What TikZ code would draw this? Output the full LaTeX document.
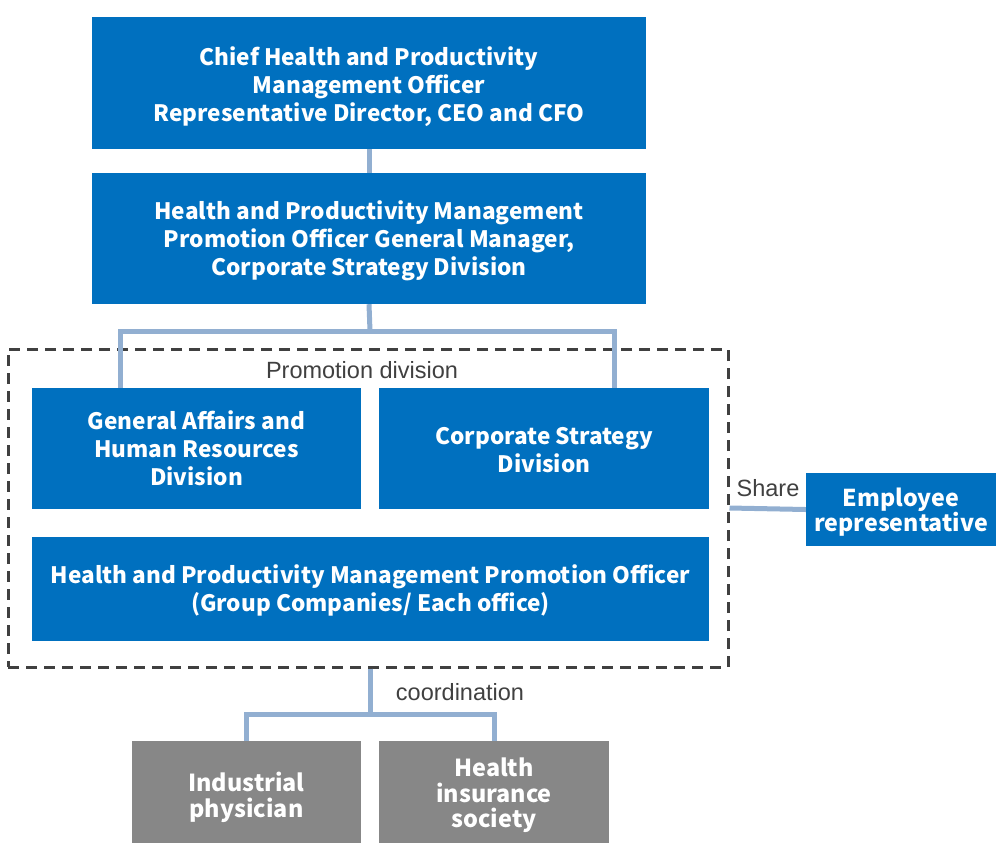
\documentclass[tikz,border=0pt]{standalone}
\usepackage{fontspec}
\setmainfont{Liberation Sans}
\newfontfamily\boxfont{Noto Sans CJK JP}
\usetikzlibrary{calc}

\definecolor{orgblue}{HTML}{0070BF}
\definecolor{orggray}{HTML}{878787}
\definecolor{linkblue}{HTML}{92AFD1}
\definecolor{framegray}{HTML}{404040}

\begin{document}
\begin{tikzpicture}[x=1pt,y=-1pt]
  \tikzset{unit/.style = {fill=orgblue, text=white, align=center,
                          inner sep=0pt, font=\boxfont\bfseries\fontsize{22.6}{28}\selectfont}}
  \tikzset{outside/.style = {unit, fill=orggray,
                             font=\boxfont\bfseries\fontsize{23.4}{25.5}\selectfont}}
  \tikzset{link/.style = {draw=linkblue, line width=5pt}}
  \tikzset{note/.style = {text=framegray, inner sep=0pt,
                          font=\fontsize{23.5}{28}\selectfont}}
  \useasboundingbox (0,0) rectangle (1000,860);

  \node[unit, minimum width=554, minimum height=132] (chief) at (369,83)
    {\rule{0pt}{26pt}Chief Health and Productivity\\ Management Officer\\ Representative Director, CEO and CFO};
  \node[unit, minimum width=554, minimum height=131] (promo) at (369,238.5)
    {\rule{0pt}{24pt}Health and Productivity Management\\ Promotion Officer General Manager,\\ Corporate Strategy Division};

  % promotion division
  \node[draw=framegray, line width=3pt, dash pattern=on 11pt off 7pt,
        minimum width=720, minimum height=318, inner sep=0pt] (frame) at (368,508) {};
  \node[note] (frametitle) at (362,370) {Promotion division};
  \node[unit, minimum width=329, minimum height=121] (ga) at (196.5,448.5)
    {General Affairs and\\ Human Resources\\ Division};
  \node[unit, minimum width=330, minimum height=121] (cs) at (544,448.5)
    {\rule{0pt}{20pt}Corporate Strategy\\ Division};
  \node[unit, minimum width=677, minimum height=104] (hpm) at (370.5,589)
    {\rule{0pt}{22pt}Health and Productivity Management Promotion Officer\\ (Group Companies/ Each office)};

  \node[unit, minimum width=190, minimum height=73,
        font=\boxfont\bfseries\fontsize{23.2}{24}\selectfont] (emp) at (901,509.5)
    {\rule{0pt}{24pt}Employee\\ representative};
  \node[note] (share) at (768,488) {Share};

  \node[outside, minimum width=229, minimum height=102] (ind) at (246.5,792)
    {\rule{0pt}{30pt}Industrial\\ physician};
  \node[outside, minimum width=230, minimum height=102] (his) at (494,792)
    {\rule{0pt}{26pt}Health\\ insurance\\ society};
  \node[note] (coord) at (460,692) {coordination};

  \coordinate (split) at (370,331);
  \coordinate (gatop) at (120,388);
  \coordinate (cstop) at (614,388);
  \coordinate (join) at (370,714);

  \draw[link] (chief.south) -- (promo.north);
  \draw[link] (promo.south) -- (split);
  \draw[link] (gatop) |- (split) -| (cstop);
  \draw[link] (frame.east) -- (emp.west);
  \draw[link] (frame.south -| join) -- (join);
  \draw[link] (ind.north) |- (join) -| (his.north);
\end{tikzpicture}
\end{document}
